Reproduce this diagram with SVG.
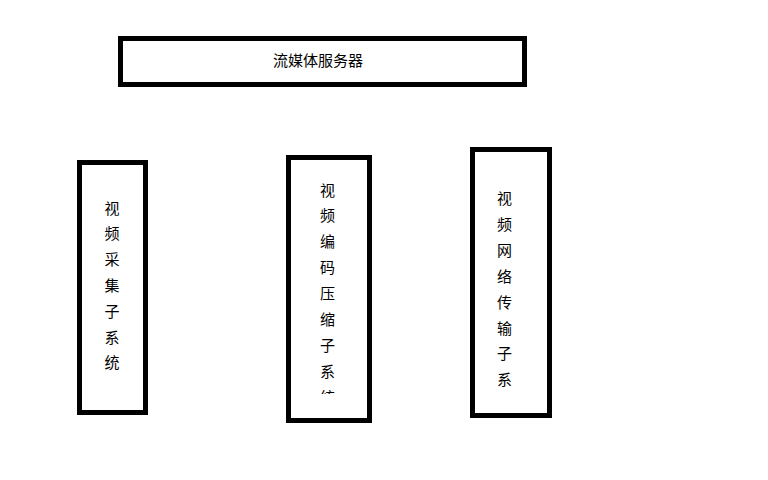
<svg xmlns="http://www.w3.org/2000/svg" width="768" height="480" viewBox="0 0 768 480">
<style>
.box{fill:#fff;stroke:#000;stroke-width:5}
.t{font-family:"Noto Sans CJK SC","Microsoft YaHei",sans-serif;font-size:15px;fill:#000;text-anchor:middle}
</style>
<defs>
<clipPath id="c2"><rect x="290" y="160" width="78" height="234"/></clipPath>
<clipPath id="c3"><rect x="474" y="151" width="74" height="240"/></clipPath>
</defs>
<rect width="768" height="480" fill="#fff"/>
<g id="server">
<rect class="box" x="120.5" y="38.5" width="404" height="46"/>
<text class="t" x="318" y="66">流媒体服务器</text>
</g>
<g id="capture">
<rect class="box" x="79.5" y="162.5" width="66" height="250"/>
<text class="t">
<tspan x="112" y="213.5">视</tspan><tspan x="112" y="239.3">频</tspan><tspan x="112" y="265.1">采</tspan><tspan x="112" y="290.9">集</tspan><tspan x="112" y="316.7">子</tspan><tspan x="112" y="342.5">系</tspan><tspan x="112" y="368.3">统</tspan>
</text>
</g>
<g id="encode">
<rect class="box" x="288.5" y="157.5" width="81" height="263"/>
<g clip-path="url(#c2)">
<text class="t">
<tspan x="327.5" y="195.5">视</tspan><tspan x="327.5" y="221.4">频</tspan><tspan x="327.5" y="247.3">编</tspan><tspan x="327.5" y="273.2">码</tspan><tspan x="327.5" y="299.1">压</tspan><tspan x="327.5" y="325">缩</tspan><tspan x="327.5" y="350.9">子</tspan><tspan x="327.5" y="376.8">系</tspan><tspan x="327.5" y="402.7">统</tspan>
</text>
</g>
</g>
<g id="network">
<rect class="box" x="472.5" y="149.5" width="77" height="266"/>
<g clip-path="url(#c3)">
<text class="t">
<tspan x="504.5" y="204">视</tspan><tspan x="504.5" y="229.9">频</tspan><tspan x="504.5" y="255.8">网</tspan><tspan x="504.5" y="281.7">络</tspan><tspan x="504.5" y="307.6">传</tspan><tspan x="504.5" y="333.5">输</tspan><tspan x="504.5" y="359.4">子</tspan><tspan x="504.5" y="385.3">系</tspan><tspan x="504.5" y="411.2">统</tspan>
</text>
</g>
</g>
<g id="connectors"></g>
</svg>
